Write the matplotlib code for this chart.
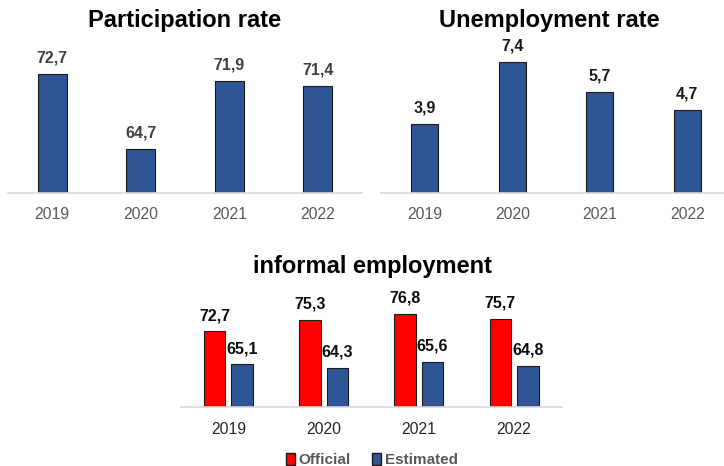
import matplotlib.pyplot as plt
from matplotlib.patches import Patch

plt.rcParams['font.family'] = ['Liberation Sans', 'DejaVu Sans']

years = ['2019', '2020', '2021', '2022']
participation = [72.7, 64.7, 71.9, 71.4]
unemployment = [3.9, 7.4, 5.7, 4.7]
informal_official = [72.7, 75.3, 76.8, 75.7]
informal_estimated = [65.1, 64.3, 65.6, 64.8]

BLUE = '#2F5597'
RED = '#FF0000'
EDGE = '#1a1a1a'
W, H = 724, 466


def px_axes(fig, left, right, top, bottom):
    # axes placed in pixel coordinates measured from the top-left corner
    return fig.add_axes([left / W, (H - bottom) / H, (right - left) / W, (bottom - top) / H])


def style(ax, tick_color, pad):
    for s in ['top', 'right', 'left']:
        ax.spines[s].set_visible(False)
    ax.spines['bottom'].set_color('#d9d9d9')
    ax.spines['bottom'].set_linewidth(1.2)
    ax.set_yticks([])
    ax.tick_params(axis='x', length=0, pad=pad, labelsize=11.3, labelcolor=tick_color)
    ax.set_xlim(-0.5, 3.5)


def label_bars(ax, bars, values, color):
    for b, v in zip(bars, values):
        ax.annotate(f'{v:.1f}'.replace('.', ','), (b.get_x() + b.get_width() / 2, v),
                    xytext=(0, 6), textcoords='offset points', ha='center', va='bottom',
                    fontsize=11.5, fontweight='bold', color=color)


fig = plt.figure(figsize=(W / 100, H / 100), dpi=100)

# participation rate
ax1 = px_axes(fig, 8, 362, 45, 192.7)
x = range(len(years))
bars = ax1.bar(x, participation, width=0.33, color=BLUE, edgecolor=EDGE, linewidth=0.8)
ax1.set_ylim(60, 75.75)
style(ax1, '#595959', 10)
ax1.set_xticks(list(x), years)
label_bars(ax1, bars, participation, '#404040')
fig.text(185 / W, (H - 27.5) / H, 'Participation rate', ha='center', va='baseline',
         fontsize=17, fontweight='bold')

# unemployment rate
ax2 = px_axes(fig, 381, 731, 45, 193)
bars = ax2.bar(x, unemployment, width=0.31, color=BLUE, edgecolor=EDGE, linewidth=0.8)
ax2.set_ylim(0, 8.36)
style(ax2, '#595959', 10)
ax2.set_xticks(list(x), years)
label_bars(ax2, bars, unemployment, '#1a1a1a')
fig.text(549.5 / W, (H - 27) / H, 'Unemployment rate', ha='center', va='baseline',
         fontsize=17, fontweight='bold')

# informal employment
ax3 = px_axes(fig, 180.7, 561.7, 290, 406.7)
bw = 0.226
off = 0.144
xo = [i - off for i in x]
xe = [i + off for i in x]
b_off = ax3.bar(xo, informal_official, width=bw, color=RED, edgecolor=EDGE, linewidth=0.8)
b_est = ax3.bar(xe, informal_estimated, width=bw, color=BLUE, edgecolor=EDGE, linewidth=0.8)
ax3.set_ylim(55.3, 82.3)
style(ax3, '#262626', 11)
ax3.set_xticks(list(x), years)
label_bars(ax3, b_off, informal_official, '#0d0d0d')
label_bars(ax3, b_est, informal_estimated, '#0d0d0d')
fig.text(372.5 / W, (H - 273.3) / H, 'informal employment', ha='center', va='baseline',
         fontsize=17, fontweight='bold')

handles = [Patch(facecolor=RED, edgecolor=EDGE, label='Official'),
           Patch(facecolor=BLUE, edgecolor=EDGE, label='Estimated')]
leg = fig.legend(handles=handles, loc='center', bbox_to_anchor=(372 / W, (H - 460) / H),
                 ncol=2, frameon=False, handlelength=0.6, handleheight=0.8,
                 handletextpad=0.25, columnspacing=1.4,
                 prop={'size': 11, 'weight': 'bold'})
for t in leg.get_texts():
    t.set_color('#595959')

fig.savefig('out.png', dpi=100)
